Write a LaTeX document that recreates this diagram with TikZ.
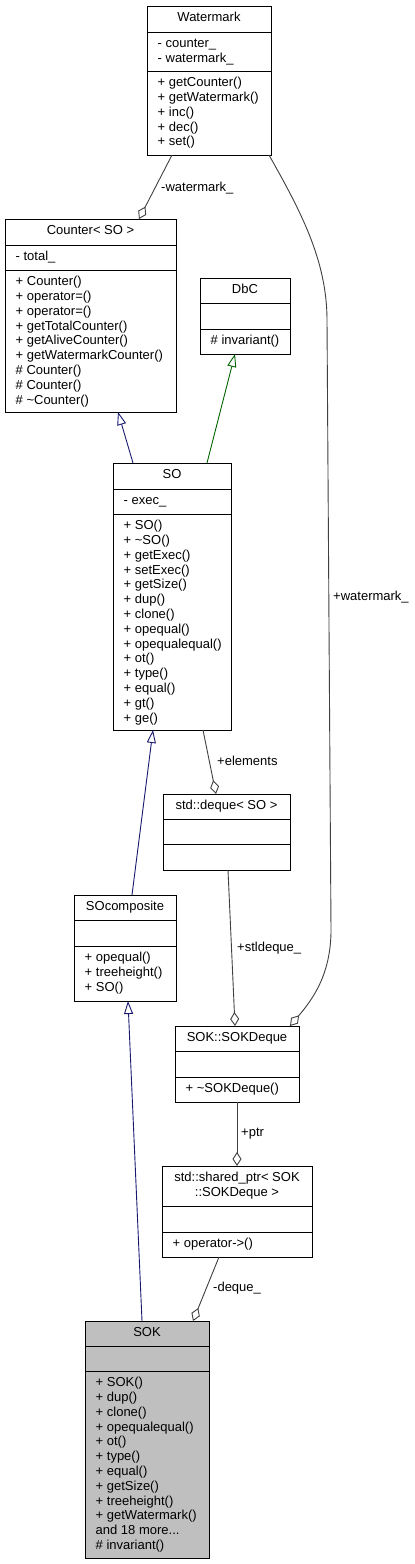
\documentclass[tikz,border=0pt]{standalone}
\usepackage{fontspec}
\setmainfont{Liberation Sans}
\usetikzlibrary{arrows.meta}
\newcommand{\firstrule}{\rule{0pt}{11pt}}
\newcommand{\umlfont}{\fontsize{13}{14.8}\selectfont}
\definecolor{edgegray}{HTML}{404040}
\definecolor{inhblue}{HTML}{191970}
\definecolor{inhgreen}{HTML}{006400}
\definecolor{sokfill}{HTML}{BFBFBF}
\begin{document}
\begin{tikzpicture}[x=1pt,y=-1pt,
  box/.style={draw=black, line width=1pt, fill=white, anchor=north west, inner sep=0pt, outer sep=0pt},
  divider/.style={draw=black, line width=1pt},
  title/.style={anchor=north, inner sep=0pt, align=center, font=\umlfont},
  mem/.style={anchor=north west, inner sep=0pt, align=left, font=\umlfont},
  lbl/.style={anchor=base west, inner sep=0pt, font=\umlfont},
  agg/.style={draw=edgegray, line width=0.9pt, -{Diamond[open, length=14pt, width=9pt]}},
  inh/.style={draw=inhblue, line width=0.9pt, -{Triangle[open, length=13pt, width=9pt]}},
  inhg/.style={draw=inhgreen, line width=0.9pt, -{Triangle[open, length=13pt, width=9pt]}}
]
\fill[white] (0,0) rectangle (415,1564);
\useasboundingbox (0,0) rectangle (415,1564);

% Watermark
\node[box, minimum width=124pt, minimum height=149pt] (wm) at (147,6) {};
\draw[divider] ([yshift=-26pt]wm.north west) -- ([yshift=-26pt]wm.north east);
\draw[divider] ([yshift=-65pt]wm.north west) -- ([yshift=-65pt]wm.north east);
\node[title] (wm-t) at ([yshift=-4.5pt]wm.north) {\firstrule Watermark};
\node[mem] (wm-a) at ([xshift=10.5pt,yshift=-30.5pt]wm.north west) {\firstrule - counter\_\\- watermark\_};
\node[mem] (wm-m) at ([xshift=10.5pt,yshift=-69.5pt]wm.north west) {\firstrule + getCounter()\\+ getWatermark()\\+ inc()\\+ dec()\\+ set()};

% Counter< SO >
\node[box, minimum width=171pt, minimum height=193pt] (ctr) at (5,219) {};
\draw[divider] ([yshift=-26pt]ctr.north west) -- ([yshift=-26pt]ctr.north east);
\draw[divider] ([yshift=-51pt]ctr.north west) -- ([yshift=-51pt]ctr.north east);
\node[title] (ctr-t) at ([yshift=-4.5pt]ctr.north) {\firstrule Counter< SO >};
\node[mem] (ctr-a) at ([xshift=10.5pt,yshift=-30.5pt]ctr.north west) {\firstrule - total\_};
\node[mem] (ctr-m) at ([xshift=10.5pt,yshift=-55.5pt]ctr.north west) {\firstrule + Counter()\\+ operator=()\\+ operator=()\\+ getTotalCounter()\\+ getAliveCounter()\\+ getWatermarkCounter()\\\# Counter()\\\# Counter()\\\# \textasciitilde Counter()};

% DbC
\node[box, minimum width=90pt, minimum height=76pt] (dbc) at (200,278) {};
\draw[divider] ([yshift=-25pt]dbc.north west) -- ([yshift=-25pt]dbc.north east);
\draw[divider] ([yshift=-51pt]dbc.north west) -- ([yshift=-51pt]dbc.north east);
\node[title] (dbc-t) at ([yshift=-4.5pt]dbc.north) {\firstrule DbC};
\node[mem] (dbc-m) at ([xshift=10.5pt,yshift=-55.5pt]dbc.north west) {\firstrule \# invariant()};

% SO
\node[box, minimum width=118pt, minimum height=267pt] (so) at (113,463) {};
\draw[divider] ([yshift=-26pt]so.north west) -- ([yshift=-26pt]so.north east);
\draw[divider] ([yshift=-51pt]so.north west) -- ([yshift=-51pt]so.north east);
\node[title] (so-t) at ([yshift=-4.5pt]so.north) {\firstrule SO};
\node[mem] (so-a) at ([xshift=10.5pt,yshift=-30.5pt]so.north west) {\firstrule - exec\_};
\node[mem] (so-m) at ([xshift=10.5pt,yshift=-55.5pt]so.north west) {\firstrule + SO()\\+ \textasciitilde SO()\\+ getExec()\\+ setExec()\\+ getSize()\\+ dup()\\+ clone()\\+ opequal()\\+ opequalequal()\\+ ot()\\+ type()\\+ equal()\\+ gt()\\+ ge()};

% std::deque< SO >
\node[box, minimum width=127pt, minimum height=76pt] (dq) at (163,794) {};
\draw[divider] ([yshift=-25pt]dq.north west) -- ([yshift=-25pt]dq.north east);
\draw[divider] ([yshift=-50pt]dq.north west) -- ([yshift=-50pt]dq.north east);
\node[title] (dq-t) at ([yshift=-4.5pt]dq.north) {\firstrule std::deque< SO >};

% SOcomposite
\node[box, minimum width=102pt, minimum height=106pt] (soc) at (74,895) {};
\draw[divider] ([yshift=-25pt]soc.north west) -- ([yshift=-25pt]soc.north east);
\draw[divider] ([yshift=-51pt]soc.north west) -- ([yshift=-51pt]soc.north east);
\node[title] (soc-t) at ([yshift=-4.5pt]soc.north) {\firstrule SOcomposite};
\node[mem] (soc-m) at ([xshift=10.5pt,yshift=-55.5pt]soc.north west) {\firstrule + opequal()\\+ treeheight()\\+ SO()};

% SOK::SOKDeque
\node[box, minimum width=124pt, minimum height=76pt] (skd) at (175,1026) {};
\draw[divider] ([yshift=-25pt]skd.north west) -- ([yshift=-25pt]skd.north east);
\draw[divider] ([yshift=-51pt]skd.north west) -- ([yshift=-51pt]skd.north east);
\node[title] (skd-t) at ([yshift=-4.5pt]skd.north) {\firstrule SOK::SOKDeque};
\node[mem] (skd-m) at ([xshift=10.5pt,yshift=-55.5pt]skd.north west) {\firstrule + \textasciitilde SOKDeque()};

% std::shared_ptr< SOK::SOKDeque >
\node[box, minimum width=150pt, minimum height=91pt] (sp) at (162,1166) {};
\draw[divider] ([yshift=-40pt]sp.north west) -- ([yshift=-40pt]sp.north east);
\draw[divider] ([yshift=-66pt]sp.north west) -- ([yshift=-66pt]sp.north east);
\node[title] (sp-t) at ([yshift=-4.5pt]sp.north) {\firstrule std::shared\_ptr< SOK\\::SOKDeque >};
\node[mem] (sp-m) at ([xshift=10.5pt,yshift=-70.5pt]sp.north west) {\firstrule + operator->()};

% SOK
\node[box, fill=sokfill, minimum width=124pt, minimum height=237pt] (sok) at (85,1321) {};
\draw[divider] ([yshift=-25pt]sok.north west) -- ([yshift=-25pt]sok.north east);
\draw[divider] ([yshift=-50pt]sok.north west) -- ([yshift=-50pt]sok.north east);
\node[title] (sok-t) at ([yshift=-4.5pt]sok.north) {\firstrule SOK};
\node[mem] (sok-m) at ([xshift=10.5pt,yshift=-54.5pt]sok.north west) {\firstrule + SOK()\\+ dup()\\+ clone()\\+ opequalequal()\\+ ot()\\+ type()\\+ equal()\\+ getSize()\\+ treeheight()\\+ getWatermark()\\and 18 more...\\\# invariant()};

% Connectors
\draw[agg] ([xshift=25pt]wm.south west) -- ([xshift=134pt]ctr.north west);
\node[lbl] (l-wm1) at (161,191.5) {-watermark\_};

\draw[agg] ([xshift=-2pt]wm.south east) .. controls (300,210) and (327,260) .. (327,320)
  -- (331,930) .. controls (331,975) and (312,1000) .. ([xshift=-9pt]skd.north east);
\node[lbl] (l-wm2) at (333,600) {+watermark\_};

\draw[inh] ([xshift=20pt]so.north west) -- ([xshift=113pt]ctr.south west);
\draw[inhg] ([xshift=94pt]so.north west) -- ([xshift=35pt]dbc.south west);

\draw[agg] ([xshift=90pt]so.south west) -- ([xshift=53pt]dq.north west);
\node[lbl] (l-el) at (217,765.3) {+elements};

\draw[inh] ([xshift=58pt]soc.north west) -- ([xshift=40pt]so.south west);

\draw[agg] ([xshift=65pt]dq.south west) -- ([xshift=60pt]skd.north west);
\node[lbl] (l-stl) at (237,951.7) {+stldeque\_};

\draw[agg] ([xshift=62pt]skd.south west) -- ([xshift=75pt]sp.north west);
\node[lbl] (l-ptr) at (241,1136.7) {+ptr};

\draw[agg] ([xshift=57pt]sp.south west) -- ([xshift=108pt]sok.north west);
\node[lbl] (l-dq) at (213,1291.7) {-deque\_};

\draw[inh] ([xshift=57pt]sok.north west) -- ([xshift=54pt]soc.south west);
\end{tikzpicture}
\end{document}
